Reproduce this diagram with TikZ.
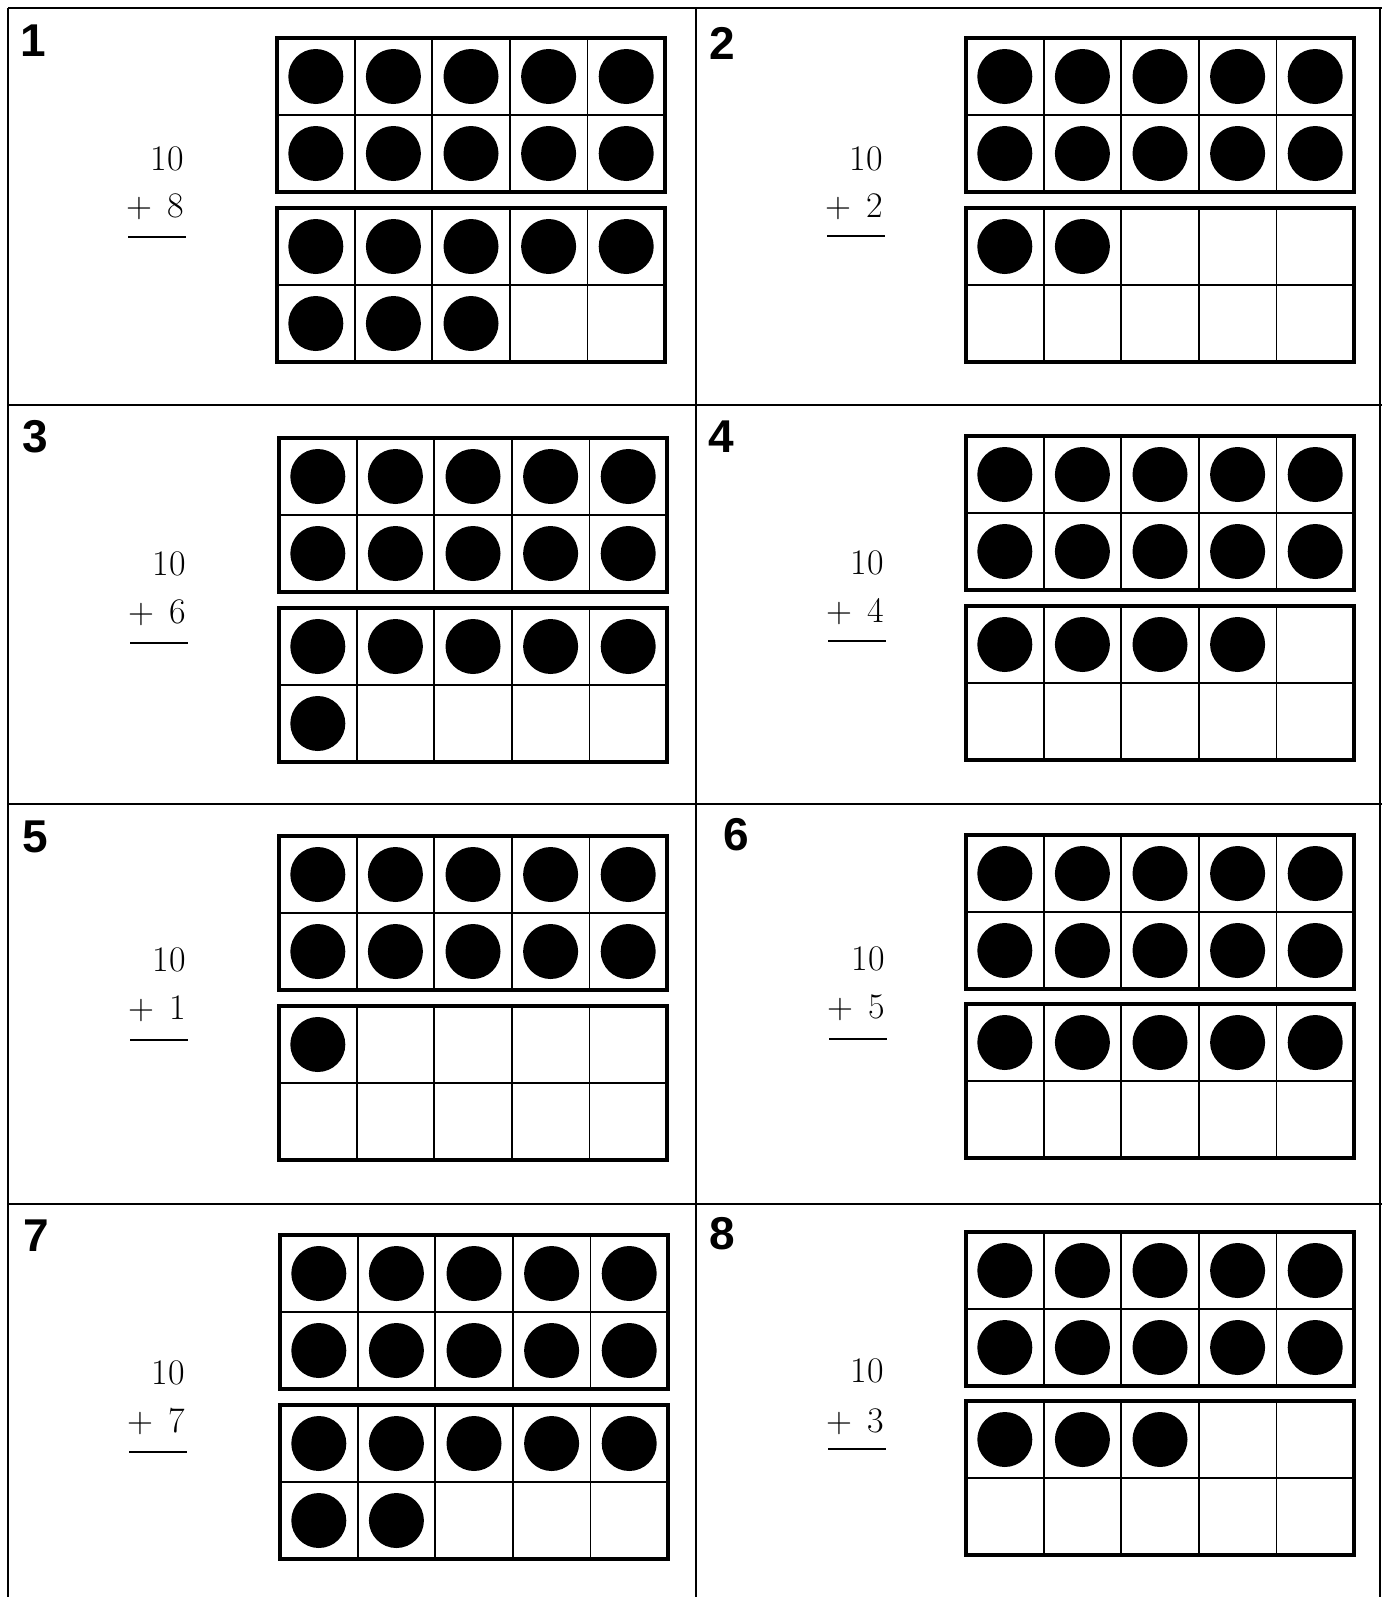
\documentclass[tikz,border=0pt]{standalone}
\usepackage{fontspec}
\newfontfamily\labfont{Liberation Sans}
\begin{document}
\begin{tikzpicture}[x=0.5pt,y=-0.5pt,
  frameline/.style={line width=1.7pt},
  cellline/.style={line width=0.9pt},
  dot/.style={fill=black},
  num/.style={font=\fontsize{18}{20}\selectfont, inner sep=0pt, anchor=east},
  lab/.style={font=\labfont\bfseries\fontsize{23}{25}\selectfont, inner sep=0pt, anchor=north west},
  border/.style={line width=1.4pt},
  sumrule/.style={line width=0.9pt}]
\useasboundingbox (0,0) rectangle (1382,1597);

\newcommand\tenframe[4]{%
  \coordinate (#1) at (#2,#3);
  \foreach \i in {1,...,4}{\draw[cellline] ({#2+\i*77.6},#3) -- ({#2+\i*77.6},{#3+154});}
  \draw[cellline] (#2,{#3+77}) -- ({#2+388},{#3+77});
  \draw[frameline] (#2,#3) rectangle ({#2+388},{#3+154});
  \foreach \j in {1,...,#4}{%
    \pgfmathsetmacro\cc{mod(\j-1,5)}%
    \pgfmathsetmacro\rr{int((\j-1)/5)}%
    \fill[dot] ({#2+38.8+\cc*77.6},{#3+38.5+\rr*77}) circle[radius=13.75pt];}
}
\newcommand\sumtext[6]{%
  \node[num] (#1ten) at (#2,#3) {10};
  \node[num] (#1add) at (#2,#4) {+\hspace{0.4em}#6};
  \coordinate (#1ls) at ({#2-56},#5);
  \coordinate (#1le) at ({#2+2},#5);
  \draw[sumrule] (#1ls) -- (#1le);
}

% borders
\coordinate (btl) at (8,8);
\coordinate (btr) at (1382,8);
\coordinate (bbl) at (8,1597);
\coordinate (bmt) at (696,8);
\coordinate (bmb) at (696,1597);
\coordinate (brt) at (1380,8);
\coordinate (brb) at (1380,1597);
\draw[border] (btl) -- (btr);
\draw[border] (btl) -- (bbl);
\draw[border] (bmt) -- (bmb);
\draw[border] (brt) -- (brb);
\draw[border] (8,405) -- (1382,405);
\draw[border] (8,804) -- (1382,804);
\draw[border] (8,1204) -- (1382,1204);

% panel 1
\node[lab] (l1) at (20,24) {1};
\tenframe{p1a}{277}{38}{10}
\tenframe{p1b}{277}{208}{8}
\sumtext{p1}{184}{159}{207}{237}{8}
% panel 2
\node[lab] (l2) at (709,27) {2};
\tenframe{p2a}{966}{38}{10}
\tenframe{p2b}{966}{208}{2}
\sumtext{p2}{883}{158.5}{207}{236}{2}
% panel 3
\node[lab] (l3) at (22,420) {3};
\tenframe{p3a}{279}{438}{10}
\tenframe{p3b}{279}{608}{6}
\sumtext{p3}{186}{564}{613}{643}{6}
% panel 4
\node[lab] (l4) at (708,420) {4};
\tenframe{p4a}{966}{436}{10}
\tenframe{p4b}{966}{606}{4}
\sumtext{p4}{884}{563}{612}{641}{4}
% panel 5
\node[lab] (l5) at (22,820) {5};
\tenframe{p5a}{279}{836}{10}
\tenframe{p5b}{279}{1006}{1}
\sumtext{p5}{186}{960}{1009}{1040}{1}
% panel 6
\node[lab] (l6) at (723,818) {6};
\tenframe{p6a}{966}{835}{10}
\tenframe{p6b}{966}{1004}{5}
\sumtext{p6}{885}{959}{1008}{1039}{5}
% panel 7
\node[lab] (l7) at (23,1219) {7};
\tenframe{p7a}{280}{1235}{10}
\tenframe{p7b}{280}{1405}{7}
\sumtext{p7}{185}{1373}{1421}{1452}{7}
% panel 8
\node[lab] (l8) at (709,1217) {8};
\tenframe{p8a}{966}{1232}{10}
\tenframe{p8b}{966}{1401}{3}
\sumtext{p8}{884}{1371}{1422}{1449}{3}
\end{tikzpicture}
\end{document}
